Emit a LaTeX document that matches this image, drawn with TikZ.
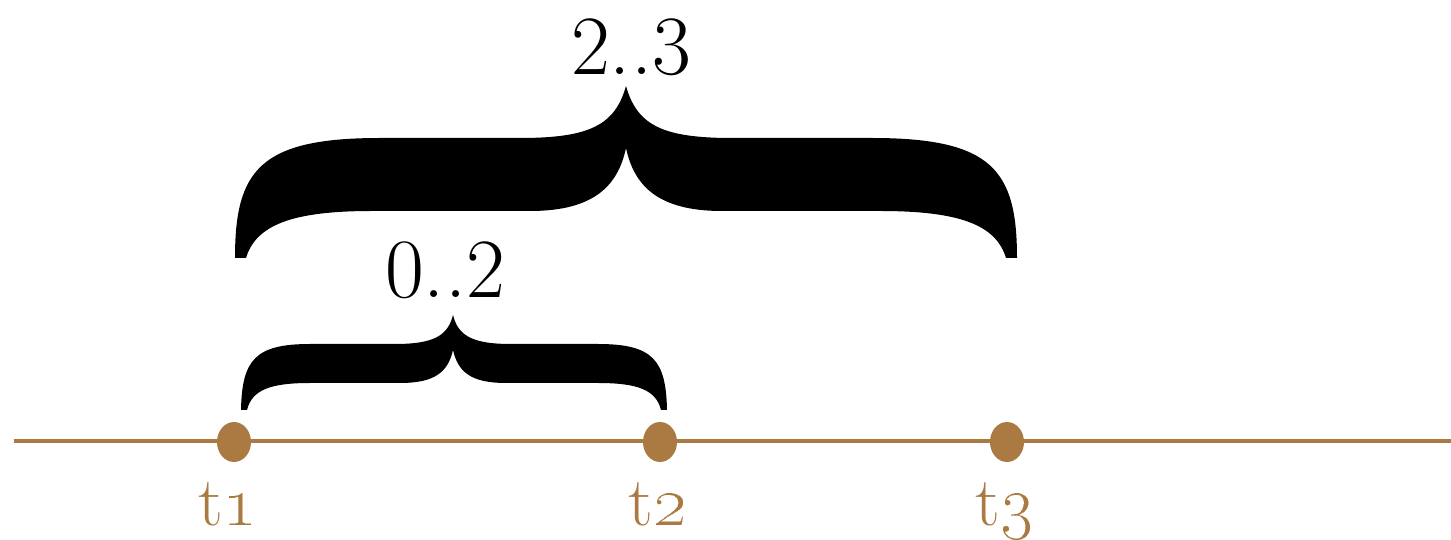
\documentclass[tikz,border=0pt]{standalone}
\usepackage{xcolor}
\usepackage{tikz}
\usetikzlibrary{shapes.geometric, positioning}
\definecolor{TimeBrown}{RGB}{170,122,66}
\tikzset{
  % asse dei tempi
  axis/.style={line width=4pt*0.01/0.03514,TimeBrown},
  tick dot/.style={ellipse,fill=TimeBrown,draw=none,minimum width=0.34cm,minimum height=0.40cm,inner sep=0},
  tick label/.style={anchor=base,inner sep=0pt,text=TimeBrown,font=\fontsize{19.8}{23}\selectfont},
  % parentesi graffe piene
  brace fill/.style={fill=black,draw=none},
  brace label/.style={anchor=base,font=\fontsize{24}{28}\selectfont}
}
\begin{document}
\begin{tikzpicture}[x=0.01cm,y=-0.01cm]
  \useasboundingbox (0,0) rectangle (1451,540);
  \coordinate (start) at (14,441);
  \coordinate (end) at (1451,441);
  \draw[axis] (start) -- (end);
  \node[tick dot] (t1) at (234,442) {};
  \node[tick dot] (t2) at (660,442) {};
  \node[tick dot] (t3) at (1007,442) {};
  \node[tick label] (l1) at (228,526) {t\oldstylenums{1}};
  \node[tick label] (l2) at (658,526) {t\oldstylenums{2}};
  \node[tick label] (l3) at (1005,526) {t\oldstylenums{3}};
  % graffa grande
  \fill[brace fill] (235,258) .. controls (235,170) and (260,138) .. (380,138)
    -- (520,138) .. controls (590,138) and (615,125) .. (626,86)
    .. controls (637,125) and (662,138) .. (732,138)
    -- (872,138) .. controls (992,138) and (1017,170) .. (1017,258)
    -- (1006,258) .. controls (996,225) and (960,211) .. (880,211)
    -- (722,211) .. controls (657,211) and (634,185) .. (626,148)
    .. controls (618,185) and (595,211) .. (530,211)
    -- (372,211) .. controls (292,211) and (256,225) .. (246,258) -- cycle;
  % graffa piccola
  \fill[brace fill] (241,410) .. controls (242,360) and (255,344) .. (310,344)
    -- (395,344) .. controls (435,344) and (448,335) .. (453,315)
    .. controls (458,335) and (471,344) .. (511,344)
    -- (598,344) .. controls (653,344) and (666,360) .. (667,410)
    -- (661,410) .. controls (656,390) and (638,383) .. (598,383)
    -- (506,383) .. controls (471,383) and (458,372) .. (453,350)
    .. controls (448,372) and (435,383) .. (400,383)
    -- (310,383) .. controls (270,383) and (252,390) .. (247,410) -- cycle;
  \node[brace label] (big) at (631,75) {2..3};
  \node[brace label] (small) at (445,298) {0..2};
\end{tikzpicture}
\end{document}
